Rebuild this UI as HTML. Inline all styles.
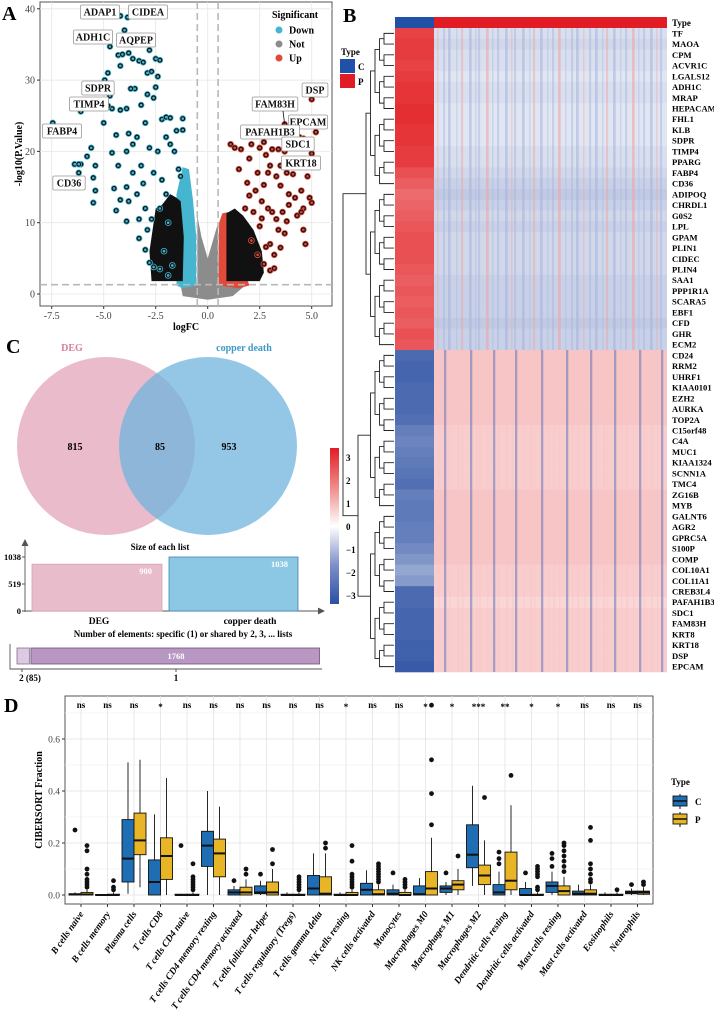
<!DOCTYPE html>
<html><head><meta charset="utf-8"><style>
html,body{margin:0;padding:0;background:#fff;}
svg{display:block;font-family:"Liberation Serif",serif;font-weight:bold;}
</style></head><body>
<svg id="fig" width="714" height="1013" viewBox="0 0 714 1013" xmlns="http://www.w3.org/2000/svg">
<g id="pA"></g>
<g id="pB"></g>
<g id="pC"></g>
<g id="pD"></g>
</svg>
<script>
const NS="http://www.w3.org/2000/svg";
function mk(parent,tag,attrs,text){const e=document.createElementNS(NS,tag);for(const k in attrs)e.setAttribute(k,attrs[k]);if(text!==undefined)e.textContent=text;parent.appendChild(e);return e;}

/* ================= Panel A data ================= */
const volDownX=[-6.4,-6.1,-6.2,-5.6,-5.8,-5.4,-5.5,-5.4,-5.5,-5,-4.95,-4.8,-4.7,-4.6,-4.4,-4.2,-4.6,-4.3,-4.5,-4.2,-4.4,-4.3,-4.1,-4.2,-3.8,-3.6,-3.3,-3.1,-2.8,-2.5,-2.3,-3.5,-3.7,-3.9,-3.2,-2.9,-2.7,-2.4,-2.5,-2.9,-2.6,-3.0,-3.4,-3.6,-3.8,-3.9,-3.6,-3.9,-3.8,-3.9,-3.3,-3.0,-3.3,-3.0,-2.8,-2.6,-2.9,-2.2,-2.0,-1.8,-1.5,-1.2,-1.2,-2.0,-1.8,-1.6,-2.4,-2.6,-2.2,-2.0,-1.4,-1.3,-2.3,-1.9,-2.7,-2.1,-1.7,-2.3,-1.9,-3.2,-3.4,-2.8,-3.1];
const volDownY=[18.2,18.2,17,20.5,19.3,18,16.3,14.5,12.8,24,30,31,27.8,26,22.3,25.8,19.8,18,14.8,13.2,11.7,33.5,33.6,32,33.8,33,32.7,32.5,34.2,33,32.8,28.8,28.8,26,26.5,31,31.2,30.5,29,28,27.5,24,22,21,22.5,20,17,15,13,10.2,10.5,12,7.8,6.2,4.4,3.8,9,24.5,24.8,24.7,22.9,23,24.6,22,21,20,20,17,16,14,17.5,16.5,12,10,10.5,6,4,3.5,2.6,18,14,20.5,15.5];
const volUpX=[1.1,1.3,1.6,2.1,2.5,2.8,3.1,3.4,3.7,4.4,4.0,3.0,3.5,2.0,1.5,2.4,2.9,3.3,3.8,4.1,4.5,4.2,4.8,4.9,5.0,4.6,4.3,4.6,4.7,3.9,3.6,3.3,3.1,3.4,3.7,3.5,3.2,3.0,2.8,2.7,3.0,3.2,2.6,2.3,2.0,2.7,3.5,3.9,4.5,2.9,2.5,1.9,1.8,2.2,2.6,3.8,2.1,2.4];
const volUpY=[21,20.5,20.3,21,20.5,19.5,20.3,20.3,20,22,23.5,18,18,19,17.5,17,17,16.5,17,16.8,14.5,13.5,16.5,13.5,12.8,12,11,9,7,12.5,11.5,10.5,11.5,9,8.5,6.5,5.5,7,6.6,4.2,3.3,3.6,13,14.5,13.8,15.3,15.2,14,11.5,12,9.5,15.6,12,11.5,10.6,10.2,7.5,5.5];
const labGenes=["FABP4","CD36","TIMP4","SDPR","ADH1C","ADAP1","CIDEA","AQPEP","DSP","FAM83H","EPCAM","PAFAH1B3","SDC1","KRT18"];
const labX=[-7.45,-6.2,-6.1,-4.8,-4.7,-4.2,-3.85,-4.0,5.0,3.7,5.2,2.7,4.6,5.0];
const labY=[24,18.2,25.6,26.4,34.7,39,38.8,37,27.3,23.8,22.7,21.3,21.8,19.7];
const xTicksA=[-7.5,-5,-2.5,0,2.5,5];
const xTickLabA=["-7.5","-5.0","-2.5","0.0","2.5","5.0"];
const yTicksA=[0,10,20,30,40];

(function(){
const g=document.getElementById('pA');
const L=40,R=332,T=2,B=306;
const sx=v=>207.7+v*20.8, sy=v=>294-v*7.13;
mk(g,'text',{x:2,y:20,'font-size':20,},'A');
mk(g,'rect',{x:L,y:T,width:R-L,height:B-T,fill:'#fff',stroke:'#555','stroke-width':1,});
for(let i=0;i<xTicksA.length;i++){const x=sx(xTicksA[i]);const l=mk(g,'line',{x1:x,x2:x,y1:T,y2:B,stroke:'#e6e6e6','stroke-width':0.8});}
for(let i=0;i<yTicksA.length;i++){const y=sy(yTicksA[i]);const l=mk(g,'line',{x1:L,x2:R,y1:y,y2:y,stroke:'#e6e6e6','stroke-width':0.8});}
const pg=(pts,fill,name)=>{const p=mk(g,'polygon',{points:pts.map(p=>sx(p[0])+','+sy(p[1])).join(' '),fill:fill,'stroke-linejoin':'round'});};
pg([[-1.3,1.2],[-0.5,1.2],[-0.5,11],[-0.3,8],[0,5],[0.3,8],[0.5,10],[0.5,1.2],[1.8,1.2],[1.2,-0.3],[0,-0.8],[-1.2,-0.3]],'#8c8c8c','not-significant-cloud');
pg([[-1.5,1.2],[-1.5,14],[-1.2,17.8],[-0.9,17.5],[-0.7,13],[-0.55,8],[-0.55,1.2],[-1.2,0.8]],'#45b5d0','down-dense-cloud');
pg([[0.5,1.2],[0.55,10],[0.7,11.3],[1.0,11.5],[1.3,8],[2.0,1.2],[1.5,0.8]],'#e04a3a','up-dense-cloud');
pg([[-2.7,1.8],[-2.8,6],[-2.6,10],[-2.5,12],[-2.2,12.5],[-1.8,14],[-1.5,13.5],[-1.3,13],[-1.15,8],[-1.2,1.8]],'#111','down-dense-core');
pg([[0.9,1.8],[0.9,11.3],[1.3,12],[1.7,11],[2.2,9],[2.6,6],[2.7,3],[2.5,1.8]],'#111','up-dense-core');
[[-0.5],[0.5]].forEach(v=>{const l=mk(g,'line',{x1:sx(v[0]),x2:sx(v[0]),y1:T,y2:B,stroke:'#b8b8b8','stroke-width':1.6,'stroke-dasharray':'7,4'});});
const hl=mk(g,'line',{x1:L,x2:R,y1:sy(1.3),y2:sy(1.3),stroke:'#b8b8b8','stroke-width':1.6,'stroke-dasharray':'7,4'});

const dot=(x,y,c,name)=>{const a=mk(g,'circle',{cx:sx(x),cy:sy(y),r:3.3,fill:c});mk(g,'circle',{cx:sx(x),cy:sy(y),r:1.9,fill:'none',stroke:'#111','stroke-width':1.2});};
for(let i=0;i<volDownX.length;i++)dot(volDownX[i],volDownY[i],'#45b5d0','down-gene-point');
for(let i=0;i<volUpX.length;i++)dot(volUpX[i],volUpY[i],'#e04a3a','up-gene-point');
for(let i=0;i<labX.length;i++)dot(labX[i],labY[i],labX[i]<0?'#45b5d0':'#e04a3a','labeled-gene-point');
const boxes=[[62,131],[69,183],[89,104],[98,88],[93,37],[100,12],[148,12],[136,40],[315,90],[275,104],[308,122],[270,132],[298,144],[301,163]];
for(let i=0;i<labGenes.length;i++){
 const w=labGenes[i].length*6.6+6;const [cx,cy]=boxes[i];
 const r=mk(g,'rect',{x:cx-w/2,y:cy-7,width:w,height:14,fill:'#fff',stroke:'#999','stroke-width':0.8,rx:1.5});
 
 const t=mk(g,'text',{x:cx,y:cy+3.5,'font-size':10,'text-anchor':'middle',fill:'#111'},labGenes[i]);
 
}
mk(g,'line',{x1:sx(3.7),y1:sy(23.8),x2:283,y2:111,stroke:'#111','stroke-width':0.8});
for(let i=0;i<yTicksA.length;i++){const y=sy(yTicksA[i]);mk(g,'line',{x1:L-3,x2:L,y1:y,y2:y,stroke:'#333'});const t=mk(g,'text',{x:L-5,y:y+3.5,'font-size':10,'text-anchor':'end',fill:'#444','font-weight':'normal'},String(yTicksA[i]));}
for(let i=0;i<xTicksA.length;i++){const x=sx(xTicksA[i]);mk(g,'line',{x1:x,x2:x,y1:B,y2:B+3,stroke:'#333'});const t=mk(g,'text',{x:x,y:B+13,'font-size':10,'text-anchor':'middle',fill:'#444','font-weight':'normal'},xTickLabA[i]);}
mk(g,'text',{x:186,y:330,'font-size':10,'text-anchor':'middle',},'logFC');
mk(g,'text',{x:0,y:0,'font-size':10,'text-anchor':'middle',transform:'translate(22,154) rotate(-90)',},'-log10(P.Value)');
mk(g,'text',{x:272,y:18,'font-size':10,},'Significant');
const lg=[['Down','#45b5d0'],['Not','#8c8c8c'],['Up','#e04a3a']];
lg.forEach((d,i)=>{const c=mk(g,'circle',{cx:279,cy:30+i*14,r:3.5,fill:d[1]});mk(g,'text',{x:289,y:33.5+i*14,'font-size':10},d[0]);});
})();

/* ================= Panel B data ================= */
const genes=["TF","MAOA","CPM","ACVR1C","LGALS12","ADH1C","MRAP","HEPACAM","FHL1","KLB","SDPR","TIMP4","PPARG","FABP4","CD36","ADIPOQ","CHRDL1","G0S2","LPL","GPAM","PLIN1","CIDEC","PLIN4","SAA1","PPP1R1A","SCARA5","EBF1","CFD","GHR","ECM2","CD24","RRM2","UHRF1","KIAA0101","EZH2","AURKA","TOP2A","C15orf48","C4A","MUC1","KIAA1324","SCNN1A","TMC4","ZG16B","MYB","GALNT6","AGR2","GPRC5A","S100P","COMP","COL10A1","COL11A1","CREB3L4","PAFAH1B3","SDC1","FAM83H","KRT8","KRT18","DSP","EPCAM"];
const meanC=[2.4,2.5,2.5,2.4,2.5,2.6,2.6,2.7,2.7,2.6,2.6,2.5,2.5,2.2,2.0,1.8,1.9,2.0,2.1,2.2,2.2,2.2,2.1,2.0,2.1,2.0,2.1,2.0,2.2,2.1,-2.4,-2.5,-2.5,-2.4,-2.4,-2.4,-2.3,-2.0,-1.9,-2.0,-2.1,-2.2,-2.3,-2.0,-2.1,-2.1,-2.0,-2.0,-1.8,-1.6,-1.3,-1.5,-2.4,-2.4,-2.5,-2.5,-2.5,-2.6,-2.6,-2.7];
const meanP=[-0.4,-0.5,-0.4,-0.4,-0.3,-0.4,-0.4,-0.3,-0.3,-0.3,-0.3,-0.4,-0.4,-0.5,-0.6,-0.7,-0.6,-0.5,-0.6,-0.5,-0.5,-0.5,-0.5,-0.6,-0.6,-0.6,-0.6,-0.7,-0.6,-0.6,0.6,0.6,0.6,0.6,0.6,0.6,0.6,0.5,0.5,0.5,0.5,0.5,0.5,0.6,0.6,0.6,0.6,0.6,0.6,0.6,0.5,0.5,0.5,0.4,0.5,0.5,0.5,0.5,0.5,0.5];
const scaleTicks=[3,2,1,0,-1,-2,-3];

function heatColor(v){v=Math.max(-3,Math.min(3,v));let a,b,t;
 if(v>=0){a=[255,255,255];b=[226,27,31];t=v/3;}else{a=[255,255,255];b=[38,75,160];t=-v/3;}
 t=Math.pow(t,0.85);
 return 'rgb('+a.map((c,i)=>Math.round(c+(b[i]-c)*t)).join(',')+')';}
(function(){
const g=document.getElementById('pB');
const X0=395,X1=667,XC=434,Y0=28,rowH=(672-28)/genes.length;
mk(g,'text',{x:343,y:22,'font-size':20,},'B');
mk(g,'rect',{x:X0,y:17,width:XC-X0,height:13,fill:'#2050a8',});
mk(g,'rect',{x:XC,y:17,width:X1-XC,height:13,fill:'#e21c24',});
mk(g,'text',{x:672,y:26,'font-size':9,},'Type');
for(let i=0;i<genes.length;i++){
 const y=Y0+i*rowH;
 const c1=mk(g,'rect',{x:X0,y:y,width:XC-X0,height:rowH+0.3,fill:heatColor(meanC[i])});
 
 const c2=mk(g,'rect',{x:XC,y:y,width:X1-XC,height:rowH+0.3,fill:heatColor(meanP[i])});
 
 const t=mk(g,'text',{x:672,y:y+rowH/2+3,'font-size':8.6},genes[i]);
 
}
// decorative column texture (visual only, not data)
const offs=[3,9,14,22,27,35,41,44,52,58,63,71,77,80,88,95,99,106,113,118,124,131,137,142,149,155,161,168,172,179,186,191,198,204,209,216,222,226];
offs.forEach((o,k)=>{const x=XC+o;
 mk(g,'rect',{x:x,y:Y0,width:1.5+(k%3)*0.6,height:rowH*30,fill:(k%4===0)?'#f2a0a0':'#a9b1dc',opacity:0.35+(k%3)*0.1});
 mk(g,'rect',{x:x+1,y:Y0+rowH*30,width:1.5+(k%2)*0.8,height:rowH*30,fill:(k%4===1)?'#4462b4':'#f7c6c6',opacity:(k%4===1)?0.45:0.5});});
const dg=mk(g,'g',{stroke:'#222','stroke-width':0.9,fill:'none',});
function tree(a,b,depth,rootX){
 if(a===b)return Y0+(a+0.5)*rowH;
 const m=Math.floor((a+b)/2);
 const x=rootX!==undefined?rootX:Math.min(392,366+depth*4.5);
 const childX=Math.min(392,366+(depth+1)*4.5);
 const y1=tree(a,m,depth+1),y2=tree(m+1,b,depth+1);
 const x1=(a===m)?394:childX,x2=(m+1===b)?394:childX;
 mk(dg,'path',{d:`M${x1},${y1}H${x}V${y2}H${x2}`});
 return (y1+y2)/2;}
const yt=tree(0,29,0,366),yb=tree(30,59,0,358);
mk(dg,'path',{d:`M366,${yt}H343V${yb}H358`});
mk(g,'text',{x:341,y:55,'font-size':9,},'Type');
mk(g,'rect',{x:340,y:59,width:15,height:14,fill:'#2050a8',});
mk(g,'rect',{x:340,y:74,width:15,height:14,fill:'#e21c24',});
mk(g,'text',{x:358,y:70,'font-size':9},'C');mk(g,'text',{x:358,y:85,'font-size':9},'P');
const defs=mk(g,'defs',{});const lgd=mk(defs,'linearGradient',{id:'cs',x1:0,y1:0,x2:0,y2:1});
[[0,'#e21c24'],[0.25,'#f08a88'],[0.5,'#ffffff'],[0.75,'#7f8fc9'],[1,'#2a4fa3']].forEach(s=>mk(lgd,'stop',{offset:s[0],'stop-color':s[1]}));
mk(g,'rect',{x:330,y:448,width:9,height:156,fill:'url(#cs)',});
for(let i=0;i<scaleTicks.length;i++){const y=458+i*23;const t=mk(g,'text',{x:346,y:y+3,'font-size':9},(scaleTicks[i]<0?'\u2212':'')+Math.abs(scaleTicks[i]));}
})();

/* ================= Panel C data ================= */
const vennSets=["DEG","copper death"];
const vennCounts=[815,85,953];
const listSizes=[900,1038];
const sharedCounts=[85,1768];
const sharedLabels=["2 (85)","1"];
(function(){
const g=document.getElementById('pC');
mk(g,'text',{x:6,y:353,'font-size':20,},'C');
mk(g,'circle',{cx:106,cy:446,r:89,fill:'#e8b7c8',opacity:0.95,});
mk(g,'circle',{cx:208,cy:446,r:89,fill:'#6fb4dc',opacity:0.75,});
mk(g,'text',{x:72,y:351,'font-size':10,'text-anchor':'middle',fill:'#d97f9c',},vennSets[0]);
mk(g,'text',{x:244,y:351,'font-size':10,'text-anchor':'middle',fill:'#3d98c8',},vennSets[1]);
[75,160,229].forEach((x,i)=>{const t=mk(g,'text',{x:x,y:450,'font-size':10,'text-anchor':'middle'},String(vennCounts[i]));});
const y0=611,maxV=1038,sy=v=>y0-v*(54/maxV);
mk(g,'text',{x:160,y:550,'font-size':9,'text-anchor':'middle',},'Size of each list');
mk(g,'path',{d:'M25,612V542 M22,546L25,540L28,546 M25,611H322 M318,608L324,611L318,614',stroke:'#555',fill:'#555','stroke-width':0.9});
[maxV,519,0].forEach(v=>{const y=sy(v);mk(g,'line',{x1:22,x2:25,y1:y,y2:y,stroke:'#555'});const t=mk(g,'text',{x:21,y:y+3,'font-size':8.5,'text-anchor':'end'},String(v));});
const bx=[[32,162,'#e9bccb','#d9a0b4'],[169,298,'#8cc8e3','#3a86b0']];
for(let i=0;i<listSizes.length;i++){const [a,b,f,s]=bx[i];const r=mk(g,'rect',{x:a,y:sy(listSizes[i]),width:b-a,height:y0-sy(listSizes[i]),fill:f,stroke:s,'stroke-width':0.8});
 mk(g,'text',{x:b-10,y:sy(listSizes[i])+10,'font-size':8.5,'text-anchor':'end',fill:'#fff'},String(listSizes[i]));
 const t=mk(g,'text',{x:i?250:99,y:624,'font-size':9.5,'text-anchor':'middle'},vennSets[i]);}
mk(g,'text',{x:183,y:637,'font-size':9,'text-anchor':'middle',},'Number of elements: specific (1) or shared by 2, 3, ... lists');
const tot=sharedCounts.reduce((a,b)=>a+b,0),W=304;let x=17;
const fills=[['#dccbe0','#8a7090'],['#b897c2','#6d4f7c']];
for(let i=0;i<sharedCounts.length;i++){const w=sharedCounts[i]/tot*W;const r=mk(g,'rect',{x:x,y:648,width:w-1.5,height:16,fill:fills[i][0],stroke:fills[i][1],'stroke-width':0.8});
 if(i===1)mk(g,'text',{x:x+w/2,y:659,'font-size':8.5,'text-anchor':'middle',fill:'#fff'},String(sharedCounts[i]));
 const lx=i===0?22:176;mk(g,'line',{x1:lx,x2:lx,y1:669,y2:672,stroke:'#555'});
 const t=mk(g,'text',{x:i===0?30:176,y:681,'font-size':9,'text-anchor':'middle'},sharedLabels[i]);
 x+=w;}
mk(g,'path',{d:'M10,644V669H322',stroke:'#555',fill:'none','stroke-width':0.9});
})();

/* ================= Panel D data ================= */
const cells=["B cells naive","B cells memory","Plasma cells","T cells CD8","T cells CD4 naive","T cells CD4 memory resting","T cells CD4 memory activated","T cells follicular helper","T cells regulatory (Tregs)","T cells gamma delta","NK cells resting","NK cells activated","Monocytes","Macrophages M0","Macrophages M1","Macrophages M2","Dendritic cells resting","Dendritic cells activated","Mast cells resting","Mast cells activated","Eosinophils","Neutrophils"];
const sigLabels=["ns","ns","ns","*","ns","ns","ns","ns","ns","ns","*","ns","ns","*","*","***","**","*","*","ns","ns","ns"];
const cQ1=[0,0,0.05,0,0,0.11,0,0.005,0,0,0,0,0,0,0.01,0.105,0,0,0.01,0,0,0.005];
const cMed=[0.002,0,0.14,0.05,0,0.19,0.01,0.01,0,0.025,0,0.02,0.005,0.003,0.025,0.155,0.01,0,0.035,0.005,0,0.01];
const cQ3=[0.005,0.002,0.29,0.135,0.003,0.245,0.02,0.035,0.003,0.075,0.003,0.045,0.02,0.035,0.035,0.27,0.04,0.025,0.05,0.015,0.003,0.015];
const cLo=[0,0,0.005,0,0,0,0,0,0,0,0,0,0,0,0,0.035,0,0,0,0,0,0];
const cHi=[0.01,0.004,0.51,0.31,0.005,0.4,0.035,0.055,0.01,0.16,0.01,0.095,0.04,0.065,0.05,0.42,0.09,0.05,0.09,0.04,0.01,0.025];
const cOut=[[0.25],[],[],[],[0.19],[],[0.055],[0.08],[],[],[],[],[0.085],[],[0.085],[],[0.12,0.14,0.165],[0.085],[0.11,0.14,0.16],[],[],[0.04]];
const pQ1=[0,0,0.155,0.06,0,0.07,0,0,0,0,0,0,0,0,0.02,0.04,0.02,0,0,0,0,0.003];
const pMed=[0.002,0,0.21,0.15,0,0.16,0.01,0.01,0,0.005,0,0.003,0,0.025,0.04,0.075,0.055,0,0.015,0.005,0,0.01];
const pQ3=[0.01,0.003,0.315,0.22,0.003,0.215,0.03,0.05,0.003,0.07,0.01,0.02,0.01,0.09,0.055,0.115,0.165,0.003,0.035,0.02,0.003,0.015];
const pLo=[0,0,0.03,0,0,0,0,0,0,0,0,0,0,0,0,0,0,0,0,0,0,0];
const pHi=[0.02,0.01,0.52,0.45,0.01,0.34,0.06,0.1,0.01,0.16,0.02,0.04,0.02,0.22,0.1,0.21,0.345,0.01,0.07,0.04,0.01,0.03];
const pOut=[[0.19,0.17,0.1,0.08,0.06,0.05,0.04,0.03],[0.055,0.03,0.02],[],[],[0.12,0.07,0.06,0.05,0.04,0.03,0.02],[],[0.08,0.1],[0.12,0.175],[0.07,0.06,0.05,0.04,0.03,0.02],[0.18,0.2],[0.19,0.13,0.08,0.07,0.06,0.05,0.04,0.03],[0.12,0.11,0.1,0.09,0.08,0.07,0.06,0.05],[0.06,0.05,0.04,0.03],[0.27,0.39,0.52,0.73],[0.15],[0.375],[0.46],[0.11,0.1,0.09,0.08,0.07,0.03,0.02],[0.2,0.19,0.17,0.15,0.13,0.11,0.09],[0.26,0.21,0.12,0.1,0.08,0.06,0.05],[0.02],[0.05,0.04]];
const yTicksD=[0,0.2,0.4,0.6];
(function(){
const g=document.getElementById('pD');
const L=65,R=653,T=696,B=904;
const sy=v=>895-v*260, cx=i=>81+i*26.5;
mk(g,'text',{x:4,y:712,'font-size':20,},'D');
mk(g,'rect',{x:L,y:T,width:R-L,height:B-T,fill:'#fff',stroke:'#444','stroke-width':0.9,});
for(let v=0;v<=0.7;v+=0.1){const y=sy(v);mk(g,'line',{x1:L,x2:R,y1:y,y2:y,stroke:(Math.round(v*10)%2===0)?'#e2e2e2':'#f0f0f0','stroke-width':0.8});}
for(let i=0;i<cells.length;i++){const l=mk(g,'line',{x1:cx(i),x2:cx(i),y1:T,y2:B,stroke:'#e2e2e2','stroke-width':0.8});}
function box(x,q1,md,q3,lo,hi,outs,fill,name){
 const gg=mk(g,'g',{});
 mk(gg,'line',{x1:x,x2:x,y1:sy(hi),y2:sy(lo),stroke:'#111','stroke-width':0.9});
 mk(gg,'rect',{x:x-6,y:sy(q3),width:12,height:Math.max(0.8,sy(q1)-sy(q3)),fill:fill,stroke:'#111','stroke-width':0.9});
 mk(gg,'line',{x1:x-6,x2:x+6,y1:sy(md),y2:sy(md),stroke:'#111','stroke-width':2});
 outs.forEach(o=>mk(gg,'circle',{cx:x,cy:sy(o),r:2.4,fill:'#111'}));}
for(let i=0;i<cells.length;i++){
 box(cx(i)-6,cQ1[i],cMed[i],cQ3[i],cLo[i],cHi[i],cOut[i],'#1f6db3','box-c');
 box(cx(i)+6,pQ1[i],pMed[i],pQ3[i],pLo[i],pHi[i],pOut[i],'#e7b525','box-p');
 const s=mk(g,'text',{x:cx(i),y:sigLabels[i]==='ns'?708:710,'font-size':9,'text-anchor':'middle'},sigLabels[i]);
 
 mk(g,'line',{x1:cx(i),x2:cx(i),y1:B,y2:B+3,stroke:'#333'});
 const t=mk(g,'text',{x:0,y:0,'font-size':9.5,'text-anchor':'end','font-style':'italic',transform:`translate(${cx(i)+3},${B+10}) rotate(-55)`},cells[i]);
 }
for(let i=0;i<yTicksD.length;i++){const y=sy(yTicksD[i]);mk(g,'line',{x1:L-3,x2:L,y1:y,y2:y,stroke:'#333'});const t=mk(g,'text',{x:L-5,y:y+3.5,'font-size':9.5,'text-anchor':'end',fill:'#444','font-weight':'normal'},yTicksD[i].toFixed(1));}
mk(g,'text',{x:0,y:0,'font-size':10,'text-anchor':'middle',transform:'translate(42,800) rotate(-90)',},'CIBERSORT Fraction');
mk(g,'text',{x:671,y:785,'font-size':9,},'Type');
[['C','#1f6db3',796],['P','#e7b525',814]].forEach(d=>{const gg=mk(g,'g',{});
 mk(gg,'line',{x1:680,x2:680,y1:d[2]-2,y2:d[2]+13,stroke:'#111'});
 mk(gg,'rect',{x:673,y:d[2],width:14,height:10,fill:d[1],stroke:'#111','stroke-width':0.9});
 mk(gg,'line',{x1:673,x2:687,y1:d[2]+5,y2:d[2]+5,stroke:'#111','stroke-width':1.5});
 mk(gg,'text',{x:695,y:d[2]+9,'font-size':9},d[0]);});
})();
</script>
</body></html>
